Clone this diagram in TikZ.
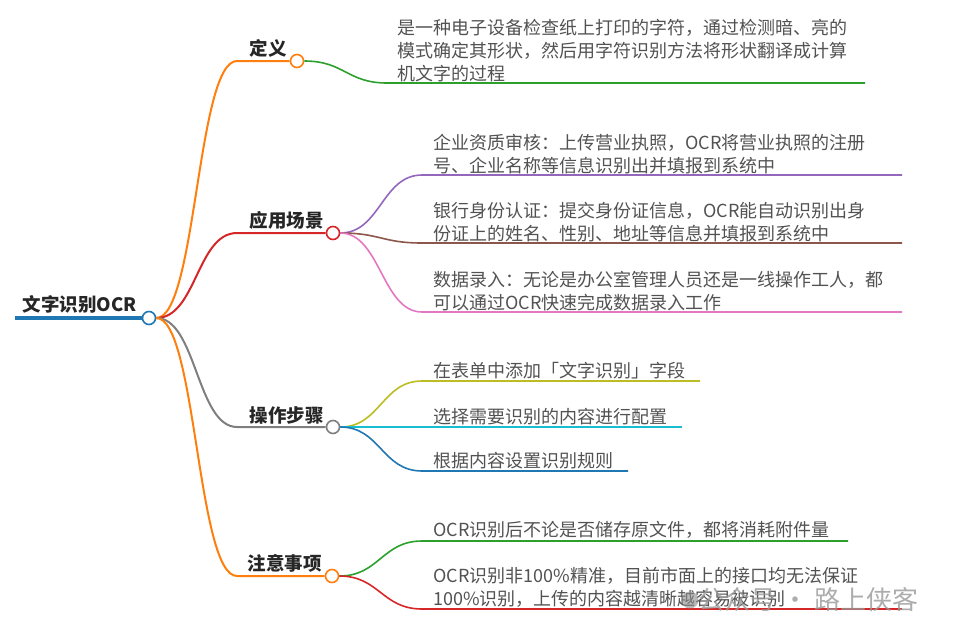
\documentclass[tikz,border=0pt]{standalone}
\usepackage{fontspec}
\setmainfont{Noto Sans CJK SC}
\usetikzlibrary{positioning}

\definecolor{tBlue}{HTML}{1F77B4}
\definecolor{tOrange}{HTML}{FF7F0E}
\definecolor{tRed}{HTML}{D62728}
\definecolor{tGray}{HTML}{7F7F7F}
\definecolor{tGreen}{HTML}{2CA02C}
\definecolor{tPurple}{HTML}{9467BD}
\definecolor{tBrown}{HTML}{8C564B}
\definecolor{tPink}{HTML}{E377C2}
\definecolor{tOlive}{HTML}{BCBD22}
\definecolor{tCyan}{HTML}{17BECF}

\begin{document}
\begin{tikzpicture}[
  x=1pt, y=-1pt,
  lbl/.style={font=\bfseries\fontsize{18.5}{22}\selectfont, text=black!85, inner sep=0pt},
  leaf/.style={font=\fontsize{18}{23}\selectfont, text=black!68, align=left, inner sep=0pt},
  dot/.style={circle, draw, fill=white, line width=1.6pt, minimum size=13pt, inner sep=0pt},
  twig/.style={line width=2pt},
  stem/.style={line width=1.6pt}
]
  \useasboundingbox (0,0) rectangle (953,638);

  % root
  \node[dot, draw=tBlue] (root) at (149,318) {};
  \coordinate (root0) at (15,318);
  \draw[tBlue, line width=4pt] (root0) -- (root.west);
  \node[lbl, font=\bfseries\fontsize{18.5}{22}\selectfont, above left=4pt and 5pt of root.west] (rootT) {文字识别OCR};

  % 定义
  \node[dot, draw=tOrange] (def) at (297,61) {};
  \coordinate (defK) at (237,61);
  \draw[twig, tOrange] (root.east) .. controls +(40,0) and +(-40,0) .. (defK) -- (def.west);
  \node[lbl, above left=3pt and 3pt of def.west] (defT) {定义};
  \coordinate (defA) at (387,83);
  \coordinate (defB) at (865,83);
  \draw[stem, tGreen] (def.east) .. controls +(40,0) and +(-40,0) .. (defA) -- (defB);
  \node[leaf, above right=1pt and 10pt of defA] (defL) {是一种电子设备检查纸上打印的字符，通过检测暗、亮的\\模式确定其形状，然后用字符识别方法将形状翻译成计算\\机文字的过程};

  % 应用场景
  \node[dot, draw=tRed] (app) at (333,233) {};
  \coordinate (appK) at (237,233);
  \draw[twig, tRed] (root.east) .. controls +(40,0) and +(-40,0) .. (appK) -- (app.west);
  \node[lbl, above left=3pt and 2pt of app.west] (appT) {应用场景};
  \coordinate (appA1) at (422,175);
  \coordinate (appB1) at (902,175);
  \coordinate (appA2) at (422,243);
  \coordinate (appB2) at (902,243);
  \coordinate (appA3) at (422,312);
  \coordinate (appB3) at (902,312);
  \draw[stem, tPurple] (app.east) .. controls +(40,0) and +(-40,0) .. (appA1) -- (appB1);
  \draw[stem, tBrown] (app.east) .. controls +(40,0) and +(-40,0) .. (appA2) -- (appB2);
  \draw[stem, tPink] (app.east) .. controls +(40,0) and +(-40,0) .. (appA3) -- (appB3);
  \node[leaf, above right=1pt and 11pt of appA1] (appL1) {企业资质审核：上传营业执照，OCR将营业执照的注册\\号、企业名称等信息识别出并填报到系统中};
  \node[leaf, above right=1pt and 11pt of appA2] (appL2) {银行身份认证：提交身份证信息，OCR能自动识别出身\\份证上的姓名、性别、地址等信息并填报到系统中};
  \node[leaf, above right=1pt and 11pt of appA3] (appL3) {数据录入：无论是办公室管理人员还是一线操作工人，都\\可以通过OCR快速完成数据录入工作};

  % 操作步骤
  \node[dot, draw=tGray] (ops) at (333,427) {};
  \coordinate (opsK) at (237,427);
  \draw[twig, tGray] (root.east) .. controls +(40,0) and +(-40,0) .. (opsK) -- (ops.west);
  \node[lbl, above left=3pt and 2pt of ops.west] (opsT) {操作步骤};
  \coordinate (opsA1) at (422,381);
  \coordinate (opsB1) at (700,381);
  \coordinate (opsA2) at (422,427);
  \coordinate (opsB2) at (682,427);
  \coordinate (opsA3) at (422,471);
  \coordinate (opsB3) at (628,471);
  \draw[stem, tOlive] (ops.east) .. controls +(40,0) and +(-40,0) .. (opsA1) -- (opsB1);
  \draw[stem, tCyan] (ops.east) -- (opsA2) -- (opsB2);
  \draw[stem, tBlue] (ops.east) .. controls +(40,0) and +(-40,0) .. (opsA3) -- (opsB3);
  \node[leaf, above right=2pt and 11pt of opsA1] (opsL1) {在表单中添加「文字识别」字段};
  \node[leaf, above right=2pt and 11pt of opsA2] (opsL2) {选择需要识别的内容进行配置};
  \node[leaf, above right=2pt and 11pt of opsA3] (opsL3) {根据内容设置识别规则};

  % 注意事项
  \node[dot, draw=tOrange] (note) at (332,576) {};
  \coordinate (noteK) at (237,576);
  \draw[twig, tOrange] (root.east) .. controls +(40,0) and +(-40,0) .. (noteK) -- (note.west);
  \node[lbl, above left=3pt and 3pt of note.west] (noteT) {注意事项};
  \coordinate (noteA1) at (422,541);
  \coordinate (noteB1) at (848,541);
  \coordinate (noteA2) at (422,609);
  \coordinate (noteB2) at (902,609);
  \draw[stem, tGreen] (note.east) .. controls +(40,0) and +(-40,0) .. (noteA1) -- (noteB1);
  \draw[stem, tRed] (note.east) .. controls +(40,0) and +(-40,0) .. (noteA2) -- (noteB2);
  \node[leaf, above right=2pt and 11pt of noteA1] (noteL1) {OCR识别后不论是否储存原文件，都将消耗附件量};
  \node[leaf, above right=1pt and 11pt of noteA2] (noteL2) {OCR识别非100\%精准，目前市面上的接口均无法保证\\100\%识别，上传的内容越清晰越容易被识别};

  % watermark
  \node[circle, fill=black!45, opacity=0.6, minimum size=17pt, inner sep=0pt] (wmIcon) at (690,600) {};
  \node[font=\fontsize{26}{26}\selectfont, text=black!40, opacity=0.8, inner sep=0pt, right=0pt of wmIcon] (wm) {公众号 · 路上侠客};
\end{tikzpicture}
\end{document}
